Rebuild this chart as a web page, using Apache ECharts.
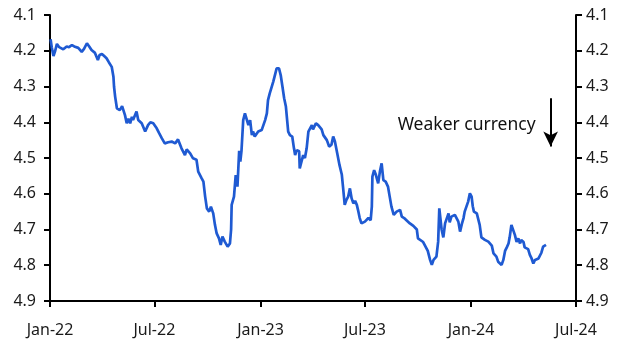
<!DOCTYPE html>
<html>
<head>
<meta charset="utf-8">
<script src="https://cdn.jsdelivr.net/npm/echarts@6/dist/echarts.min.js"></script>
<style>html,body{margin:0;padding:0;background:#fff}#c{width:631px;height:356px}</style>
</head>
<body>
<div id="c"></div>
<script>
// Days since 2022-01-01
var days = [1,3,6,9,12,16,19,23,26,29,33,38,42,45,49,52,55,59,64,68,72,78,83,86,90,94,98,102,107,110,111,113,116,118,121,125,130,133,136,139,142,144,150,153,156,159,165,170,174,179,185,189,194,199,205,211,217,222,228,234,237,243,248,254,257,263,266,269,272,276,279,283,286,289,293,296,299,303,308,312,314,315,319,322,325,328,330,332,335,338,341,344,347,350,352,355,361,367,370,373,376,378,381,384,387,390,393,397,400,403,406,409,413,416,420,423,425,428,432,433,436,439,442,445,448,451,454,456,461,465,468,471,474,480,484,488,491,494,498,502,506,508,511,514,517,520,523,526,529,532,534,537,540,546,552,556,558,559,562,565,569,572,575,578,582,586,589,592,596,601,604,607,610,614,618,624,630,636,638,641,647,650,655,659,662,665,670,673,675,679,682,685,688,691,693,696,699,702,708,711,714,717,719,722,725,728,731,733,735,740,743,745,748,754,760,763,766,769,774,777,780,783,786,789,792,795,797,800,803,806,809,812,815,817,821,823,829,832,835,838,841,844,847,849,852,855,860];
var rates = [4.168,4.19,4.215,4.20,4.181,4.19,4.186,4.196,4.196,4.188,4.19,4.184,4.188,4.186,4.192,4.19,4.203,4.195,4.179,4.188,4.198,4.206,4.226,4.212,4.209,4.215,4.221,4.232,4.245,4.273,4.30,4.329,4.361,4.358,4.366,4.355,4.380,4.403,4.39,4.403,4.385,4.394,4.370,4.394,4.392,4.403,4.426,4.408,4.40,4.403,4.417,4.43,4.445,4.459,4.456,4.454,4.459,4.448,4.473,4.492,4.476,4.487,4.501,4.505,4.538,4.557,4.566,4.608,4.641,4.650,4.636,4.655,4.687,4.711,4.725,4.743,4.720,4.734,4.748,4.739,4.70,4.631,4.608,4.548,4.58,4.48,4.51,4.48,4.394,4.375,4.370,4.408,4.394,4.436,4.426,4.440,4.426,4.422,4.408,4.394,4.375,4.338,4.319,4.315,4.287,4.268,4.249,4.249,4.268,4.300,4.333,4.356,4.426,4.436,4.440,4.473,4.492,4.478,4.481,4.529,4.510,4.492,4.500,4.473,4.426,4.422,4.408,4.42,4.403,4.408,4.41,4.42,4.436,4.450,4.468,4.463,4.440,4.454,4.487,4.520,4.547,4.580,4.631,4.617,4.608,4.585,4.613,4.627,4.620,4.631,4.645,4.668,4.683,4.678,4.668,4.674,4.636,4.552,4.534,4.547,4.571,4.538,4.515,4.562,4.566,4.580,4.608,4.636,4.659,4.650,4.655,4.645,4.664,4.668,4.674,4.683,4.690,4.700,4.725,4.729,4.735,4.739,4.76,4.785,4.799,4.785,4.776,4.734,4.641,4.700,4.722,4.683,4.678,4.655,4.680,4.664,4.668,4.659,4.678,4.706,4.685,4.668,4.650,4.636,4.622,4.599,4.608,4.635,4.650,4.655,4.650,4.687,4.722,4.729,4.734,4.730,4.745,4.767,4.776,4.790,4.785,4.799,4.785,4.760,4.750,4.739,4.722,4.687,4.685,4.715,4.735,4.725,4.739,4.729,4.735,4.750,4.755,4.771,4.781,4.795,4.785,4.783,4.781,4.776,4.765,4.748,4.743];
var tickDays = [0,181,365,546,730,912];
var tickLabels = ['Jan-22','Jul-22','Jan-23','Jul-23','Jan-24','Jul-24'];
var annotationText = 'Weaker currency';
var arrowDay = 868, arrowFrom = 4.333, arrowTo = 4.468, textLevel = 4.408;

var data = days.map(function(d,i){return [d, rates[i]];});
var FONT = 'Noto Sans';
var chart = echarts.init(document.getElementById('c'), null, {renderer:'canvas'});
function yAxis(pos, margin){
  return {
    type:'value', position:pos, inverse:true, min:4.1, max:4.9, interval:0.1,
    axisLine:{show:true, onZero:false, lineStyle:{color:'#000', width:2}},
    axisTick:{show:true, length:6, lineStyle:{color:'#000', width:2}},
    splitLine:{show:false},
    axisLabel:{color:'#1a1a1a', fontSize:16, fontFamily:FONT, margin:margin,
      formatter:function(v){return v.toFixed(1);}}
  };
}
chart.setOption({
  animation:false,
  grid:{left:50, right:55, top:15, bottom:55, containLabel:false, outerBoundsMode:'none'},
  xAxis:{type:'value', min:0, max:912,
    axisLine:{show:true, onZero:false, lineStyle:{color:'#000', width:2}},
    axisTick:{show:true, length:6, customValues:tickDays, lineStyle:{color:'#000', width:2}},
    splitLine:{show:false},
    axisLabel:{color:'#1a1a1a', fontSize:16, fontFamily:FONT, margin:21, customValues:tickDays,
      formatter:function(v){var i=tickDays.indexOf(Math.round(v)); return i>=0?tickLabels[i]:'';}}
  },
  yAxis:[yAxis('left',14), yAxis('right',10)],
  series:[{
    type:'line', data:data, yAxisIndex:0, showSymbol:false, symbol:'none',
    lineStyle:{color:'#1f5ad2', width:2.7}, itemStyle:{color:'#1f5ad2'},
    markLine:{silent:true, symbol:['none','arrow'], symbolSize:[11,15],
      lineStyle:{color:'#000', width:2, type:'solid'}, label:{show:false},
      data:[[{coord:[arrowDay, arrowFrom]},{coord:[arrowDay, arrowTo]}]]}
  }]
});
var p = chart.convertToPixel({xAxisIndex:0, yAxisIndex:0}, [arrowDay, textLevel]);
chart.setOption({graphic:[{type:'text', x:p[0]-15, y:p[1],
  style:{text:annotationText, fill:'#111', fontSize:17.5, fontFamily:FONT, align:'right', verticalAlign:'middle'}}]});
</script>
</body>
</html>
